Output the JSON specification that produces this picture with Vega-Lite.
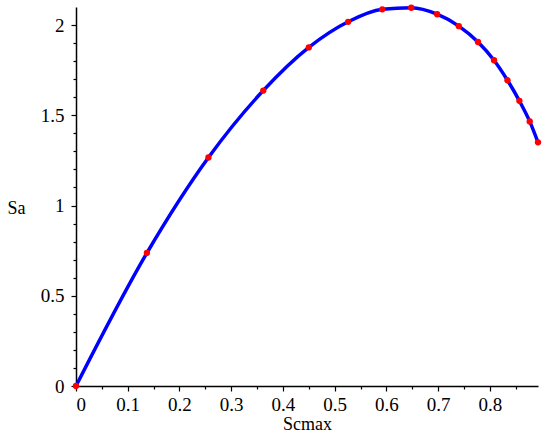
{
  "$schema": "https://vega.github.io/schema/vega-lite/v6.json",
  "width": 462,
  "height": 379,
  "autosize": "none",
  "padding": {"left": 76, "top": 7, "right": 12, "bottom": 48},
  "background": "white",
  "data": {
    "values": [
      {"Scmax": 0, "Sa": 0},
      {"Scmax": 0.137, "Sa": 0.737},
      {"Scmax": 0.256, "Sa": 1.266},
      {"Scmax": 0.362, "Sa": 1.637},
      {"Scmax": 0.45, "Sa": 1.876},
      {"Scmax": 0.526, "Sa": 2.018},
      {"Scmax": 0.592, "Sa": 2.087},
      {"Scmax": 0.648, "Sa": 2.096},
      {"Scmax": 0.698, "Sa": 2.06},
      {"Scmax": 0.74, "Sa": 1.994},
      {"Scmax": 0.777, "Sa": 1.906},
      {"Scmax": 0.808, "Sa": 1.805},
      {"Scmax": 0.834, "Sa": 1.694},
      {"Scmax": 0.857, "Sa": 1.58},
      {"Scmax": 0.877, "Sa": 1.466},
      {"Scmax": 0.893, "Sa": 1.35}
    ]
  },
  "config": {
    "view": {"stroke": null},
    "font": "Liberation Serif",
    "axis": {
      "grid": false,
      "domainColor": "black",
      "domainWidth": 1.5,
      "tickColor": "black",
      "tickWidth": 1.2,
      "labelFont": "Liberation Serif",
      "titleFont": "Liberation Serif",
      "labelColor": "black",
      "titleColor": "black",
      "labelFontSize": 19,
      "titleFontSize": 18,
      "titleFontWeight": "normal"
    }
  },
  "layer": [
    {
      "mark": {"type": "line", "color": "#0000ff", "strokeWidth": 3.5, "interpolate": "monotone"},
      "encoding": {
        "x": {
          "field": "Scmax", "type": "quantitative",
          "scale": {"domain": [0, 0.893], "nice": false, "zero": false},
          "axis": {
            "orient": "bottom",
            "values": [0, 0.1, 0.2, 0.3, 0.4, 0.5, 0.6, 0.7, 0.8],
            "format": "~g",
            "tickSize": 5,
            "labelPadding": 4,
            "title": "Scmax",
            "titleX": 231,
            "titleY": 38,
            "titleAlign": "center",
            "titleBaseline": "middle"
          }
        },
        "y": {
          "field": "Sa", "type": "quantitative",
          "scale": {"domain": [0, 2.1], "nice": false, "zero": false},
          "axis": {
            "orient": "left",
            "values": [0, 0.5, 1, 1.5, 2],
            "format": "~g",
            "tickSize": 5,
            "labelPadding": 7,
            "title": "Sa",
            "titleAngle": 0,
            "titleX": -60,
            "titleY": 201,
            "titleAlign": "center",
            "titleBaseline": "middle"
          }
        }
      }
    },
    {
      "mark": {"type": "point", "filled": true, "color": "#ff0000", "size": 40, "opacity": 1},
      "encoding": {
        "x": {
          "field": "Scmax", "type": "quantitative",
          "scale": {"domain": [0, 0.893], "nice": false, "zero": false},
          "axis": {
            "orient": "bottom",
            "values": [0.05, 0.15, 0.25, 0.35, 0.45, 0.55, 0.65, 0.75, 0.85],
            "labels": false,
            "domain": false,
            "tickSize": 3,
            "title": null
          }
        },
        "y": {
          "field": "Sa", "type": "quantitative",
          "scale": {"domain": [0, 2.1], "nice": false, "zero": false},
          "axis": {
            "orient": "left",
            "values": [0.1, 0.2, 0.3, 0.4, 0.6, 0.7, 0.8, 0.9, 1.1, 1.2, 1.3, 1.4, 1.6, 1.7, 1.8, 1.9],
            "labels": false,
            "domain": false,
            "tickSize": 3,
            "title": null
          }
        }
      }
    }
  ],
  "resolve": {"axis": {"x": "independent", "y": "independent"}}
}
